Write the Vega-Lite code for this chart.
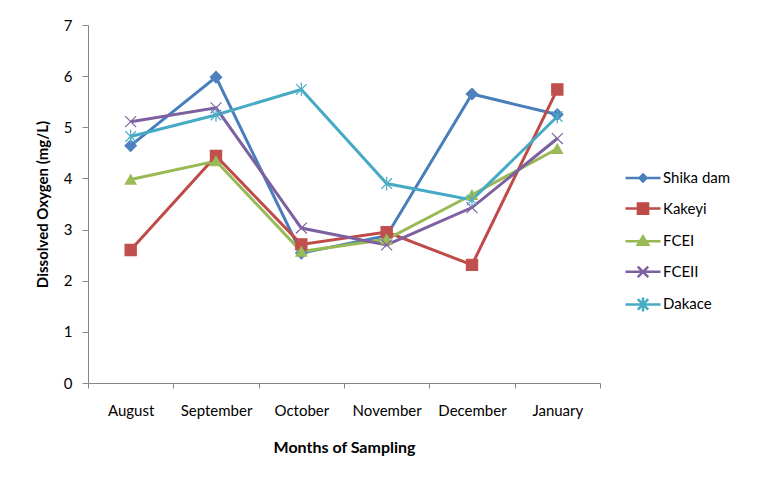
{
  "$schema": "https://vega.github.io/schema/vega-lite/v6.json",
  "width": 512,
  "height": 358,
  "autosize": {"type": "none"},
  "padding": {"left": 88, "top": 25, "right": 159, "bottom": 101},
  "background": "white",
  "config": {
    "view": {"stroke": null},
    "font": "Lato",
    "axis": {"grid": false, "domainColor": "#868686", "tickColor": "#868686", "labelColor": "#000000", "titleColor": "#000000", "labelFont": "Lato", "titleFont": "Lato"},
    "legend": {"labelFont": "Lato"}
  },
  "data": {"values": [
    {"month": "August", "series": "Shika dam", "value": 4.64},
    {"month": "September", "series": "Shika dam", "value": 5.98},
    {"month": "October", "series": "Shika dam", "value": 2.54},
    {"month": "November", "series": "Shika dam", "value": 2.88},
    {"month": "December", "series": "Shika dam", "value": 5.65},
    {"month": "January", "series": "Shika dam", "value": 5.25},
    {"month": "August", "series": "Kakeyi", "value": 2.6},
    {"month": "September", "series": "Kakeyi", "value": 4.44},
    {"month": "October", "series": "Kakeyi", "value": 2.71},
    {"month": "November", "series": "Kakeyi", "value": 2.95},
    {"month": "December", "series": "Kakeyi", "value": 2.31},
    {"month": "January", "series": "Kakeyi", "value": 5.74},
    {"month": "August", "series": "FCEI", "value": 3.98},
    {"month": "September", "series": "FCEI", "value": 4.34},
    {"month": "October", "series": "FCEI", "value": 2.57},
    {"month": "November", "series": "FCEI", "value": 2.81},
    {"month": "December", "series": "FCEI", "value": 3.68},
    {"month": "January", "series": "FCEI", "value": 4.58},
    {"month": "August", "series": "FCEII", "value": 5.11},
    {"month": "September", "series": "FCEII", "value": 5.38},
    {"month": "October", "series": "FCEII", "value": 3.03},
    {"month": "November", "series": "FCEII", "value": 2.7},
    {"month": "December", "series": "FCEII", "value": 3.43},
    {"month": "January", "series": "FCEII", "value": 4.78},
    {"month": "August", "series": "Dakace", "value": 4.82},
    {"month": "September", "series": "Dakace", "value": 5.24},
    {"month": "October", "series": "Dakace", "value": 5.74},
    {"month": "November", "series": "Dakace", "value": 3.9},
    {"month": "December", "series": "Dakace", "value": 3.58},
    {"month": "January", "series": "Dakace", "value": 5.21}
  ]},
  "encoding": {
    "x": {
      "field": "month", "type": "ordinal",
      "sort": ["August", "September", "October", "November", "December", "January"],
      "scale": {"type": "band", "paddingInner": 0, "paddingOuter": 0},
      "axis": {"title": "Months of Sampling", "labelAngle": 0, "tickBand": "extent", "tickSize": 5, "labelFontSize": 15, "labelPadding": 15, "titleFontSize": 16, "titleFontWeight": "bold", "titlePadding": 21}
    },
    "y": {
      "field": "value", "type": "quantitative",
      "scale": {"domain": [0, 7], "nice": false},
      "axis": {"title": "Dissolved Oxygen (mg/L)", "values": [0, 1, 2, 3, 4, 5, 6, 7], "tickSize": 6, "labelFontSize": 15, "labelPadding": 10, "titleFontSize": 15, "titleFontWeight": "bold", "titlePadding": 13}
    }
  },
  "layer": [
    {
      "mark": {"type": "line", "strokeWidth": 3},
      "encoding": {
        "color": {
          "field": "series", "type": "nominal",
          "scale": {"domain": ["Shika dam", "Kakeyi", "FCEI", "FCEII", "Dakace"], "range": ["#4A7EBB", "#BE4B48", "#98B954", "#7D60A0", "#46AAC5"]},
          "legend": {
            "title": null, "orient": "none", "legendX": 536, "legendY": 134,
            "symbolSize": 1225, "symbolType": "stroke", "labelFontSize": 15, "labelOffset": 1, "rowPadding": 2.6, "padding": 0,
            "encode": {"symbols": {"update": {
              "shape": {"signal": "datum.value === 'Shika dam' ? 'M-1,0H1M0,-0.2L0.2,0L0,0.2L-0.2,0Z' : datum.value === 'Kakeyi' ? 'M-1,0H1M-0.29,-0.29H0.29V0.29H-0.29Z' : datum.value === 'FCEI' ? 'M-1,0H1M0,-0.28L0.3,0.2L-0.3,0.2Z' : datum.value === 'FCEII' ? 'M-1,0H1M-0.3,-0.3L0.3,0.3M-0.3,0.3L0.3,-0.3' : 'M-1,0H1M-0.3,-0.3L0.3,0.3M-0.3,0.3L0.3,-0.3M0,-0.4V0.4'"},
              "fill": {"signal": "scale('color', datum.value)"},
              "stroke": {"signal": "scale('color', datum.value)"},
              "strokeWidth": {"value": 2.5},
              "opacity": {"value": 1}
            }}}
          }
        }
      }
    },
    {
      "mark": {"type": "point", "filled": true, "opacity": 1, "strokeWidth": 1.2},
      "encoding": {
        "fill": {
          "field": "series", "type": "nominal",
          "scale": {"range": ["#4BACC6", "#9BBB59", "#8064A2", "#C0504D", "#4F81BD"]},
          "legend": null
        },
        "stroke": {
          "field": "series", "type": "nominal",
          "scale": {"range": ["#4BACC6", "#9BBB59", "#8064A2", "#C0504D", "#4F81BD"]},
          "legend": null
        },
        "shape": {
          "field": "series", "type": "nominal",
          "scale": {"range": ["M-1,-1L1,1M-1,1L1,-1M0,-1.3L0,1.3", "triangle-up", "M-1,-1L1,1M-1,1L1,-1", "square", "diamond"]},
          "legend": null
        },
        "size": {
          "field": "series", "type": "nominal",
          "scale": {"range": [110, 130, 110, 150, 110]},
          "legend": null
        }
      }
    }
  ]
}
